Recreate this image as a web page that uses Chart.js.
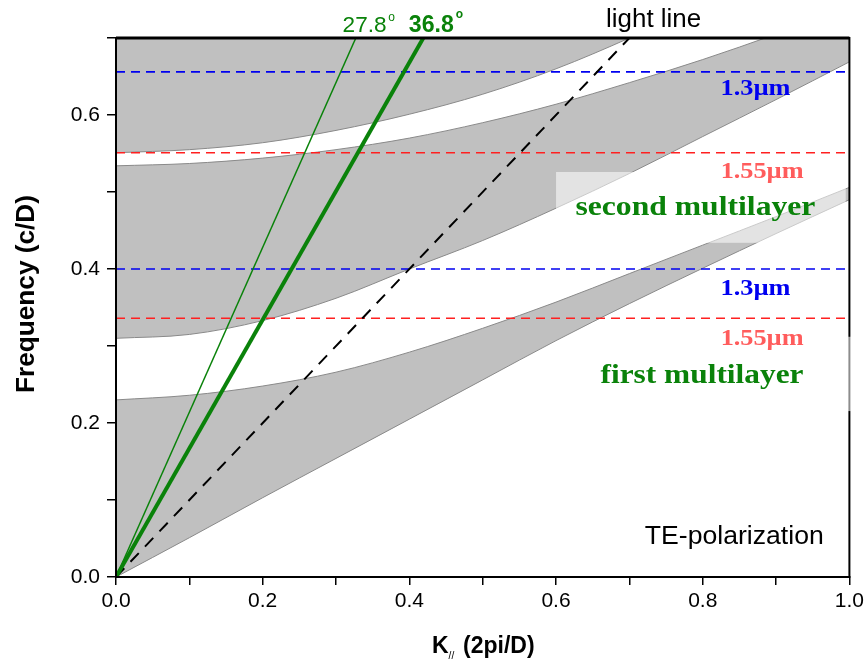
<!DOCTYPE html>
<html>
<head>
<meta charset="utf-8">
<script src="https://cdn.jsdelivr.net/npm/chart.js@4.4.1/dist/chart.umd.min.js"></script>
<style>
  html, body { margin: 0; padding: 0; background: #fff; }
  #wrap { position: relative; width: 868px; height: 663px; }
</style>
</head>
<body>
<div id="wrap"><canvas id="chart" width="868" height="663"></canvas></div>
<script>
// K// sampling shared by all band edges
const kPar = [0, 0.1, 0.2, 0.3, 0.4, 0.5, 0.6, 0.7, 0.8, 0.9, 1.0];
// band edges (frequency c/D)
const band1Lower = [0, 0.051, 0.103, 0.154, 0.205, 0.256, 0.307, 0.355, 0.401, 0.446, 0.49];
const band1Upper = [0.230, 0.236, 0.248, 0.266, 0.292, 0.323, 0.357, 0.394, 0.431, 0.468, 0.506];
const band2Lower = [0.310, 0.315, 0.333, 0.362, 0.400, 0.437, 0.479, 0.524, 0.572, 0.620, 0.669];
const band2Upper = [0.534, 0.537, 0.544, 0.555, 0.570, 0.590, 0.614, 0.642, 0.672, 0.705, 0.740];
const band3Lower = [0.551, 0.555, 0.564, 0.580, 0.601, 0.627, 0.660, 0.700, 0.745, 0.790, 0.840];

// straight lines through the origin
const lightLine = [[0, 0], [0.7, 0.7]];
const angle278 = [[0, 0], [0.327, 0.7]];
const angle368 = [[0, 0], [0.419, 0.7]];

// wavelength levels: [second multilayer, first multilayer]
const freq13um = [0.656, 0.4];
const freq155um = [0.551, 0.336];

const xTickLabels = [0, 0.2, 0.4, 0.6, 0.8, 1.0];
const yTickLabels = [0, 0.2, 0.4, 0.6];

const SANS = '"Liberation Sans", Arial, sans-serif';
const SERIF = '"Liberation Serif", "Times New Roman", serif';
const GREEN = '#0a820a';
const BLUE = '#0000f0';
const PINK = '#ff5c5c';

const toPts = (ys) => kPar.map((k, i) => ({ x: k, y: ys[i] }));
const pairPts = (arr) => arr.map(([x, y]) => ({ x, y }));
const hLine = (f) => [{ x: 0, y: f }, { x: 1, y: f }];

const edge = (label, ys, fill) => ({
  label,
  data: toPts(ys),
  borderColor: '#8a8a8a',
  borderWidth: 1,
  backgroundColor: '#c0c0c0',
  pointRadius: 0,
  cubicInterpolationMode: 'monotone',
  fill,
  order: 10,
});

const dashed = (f, color) => ({
  data: hLine(f),
  borderColor: color,
  borderWidth: 1.6,
  borderDash: [9, 6],
  pointRadius: 0,
  fill: false,
  order: 3,
});

const datasets = [
  edge('band1 lower', band1Lower, false),
  edge('band1 upper', band1Upper, '-1'),
  edge('band2 lower', band2Lower, false),
  edge('band2 upper', band2Upper, '-1'),
  edge('band3 lower', band3Lower, 'end'),
  dashed(freq13um[0], BLUE),
  dashed(freq13um[1], BLUE),
  dashed(freq155um[0], '#ff2020'),
  dashed(freq155um[1], '#ff2020'),
  { data: pairPts(lightLine), borderColor: '#000', borderWidth: 2, borderDash: [12, 9], pointRadius: 0, fill: false, order: 2 },
  { data: pairPts(angle278), borderColor: GREEN, borderWidth: 1.5, pointRadius: 0, fill: false, order: 1 },
  { data: pairPts(angle368), borderColor: GREEN, borderWidth: 4, pointRadius: 0, fill: false, order: 1 },
];

function label(ctx, s, x, y, font, color, width) {
  ctx.font = font;
  ctx.fillStyle = color;
  ctx.textAlign = 'center';
  ctx.textBaseline = 'alphabetic';
  const w = ctx.measureText(s).width;
  ctx.save();
  ctx.translate(x, y);
  if (width) ctx.scale(width / w, 1);
  ctx.fillText(s, 0, 0);
  ctx.restore();
}

const decor = {
  id: 'decor',
  afterDatasetsDraw(chart) {
    const { ctx, chartArea: a, scales: { x, y } } = chart;
    ctx.save();
    // frame
    ctx.strokeStyle = '#000';
    ctx.lineWidth = 2;
    ctx.strokeRect(a.left, a.top, a.right - a.left, a.bottom - a.top);
    ctx.lineWidth = 3;
    ctx.beginPath();
    ctx.moveTo(a.left, a.top);
    ctx.lineTo(a.right, a.top);
    ctx.stroke();

    // half-transparent label boxes
    ctx.fillStyle = 'rgba(255,255,255,0.55)';
    ctx.fillRect(x.getPixelForValue(0.6), y.getPixelForValue(0.526),
      x.getPixelForValue(0.995) - x.getPixelForValue(0.6), y.getPixelForValue(0.434) - y.getPixelForValue(0.526));
    ctx.fillRect(x.getPixelForValue(0.95), y.getPixelForValue(0.312),
      a.right + 3 - x.getPixelForValue(0.95), y.getPixelForValue(0.2155) - y.getPixelForValue(0.312));

    // in-plot labels
    const px = (v) => x.getPixelForValue(v);
    const py = (v) => y.getPixelForValue(v);
    label(ctx, '1.3\u00b5m', px(0.872), py(0.626), 'bold 23px ' + SERIF, BLUE, 70);
    label(ctx, '1.55\u00b5m', px(0.881), py(0.518), 'bold 23px ' + SERIF, PINK, 83);
    label(ctx, 'second multilayer', px(0.79), py(0.470), 'bold 28px ' + SERIF, GREEN, 240);
    label(ctx, '1.3\u00b5m', px(0.872), py(0.366), 'bold 23px ' + SERIF, BLUE, 70);
    label(ctx, '1.55\u00b5m', px(0.881), py(0.301), 'bold 23px ' + SERIF, PINK, 83);
    label(ctx, 'first multilayer', px(0.799), py(0.252), 'bold 28px ' + SERIF, GREEN, 203);
    label(ctx, 'TE-polarization', px(0.843), py(0.043), '26px ' + SANS, '#000', 179);

    // labels above the frame
    label(ctx, '27.8', px(0.339), a.top - 6, '22px ' + SANS, GREEN, 44);
    label(ctx, 'o', px(0.339) + 27, a.top - 17, '12px ' + SANS, GREEN);
    label(ctx, '36.8', px(0.43), a.top - 6, 'bold 24px ' + SANS, GREEN, 45);
    label(ctx, 'o', px(0.43) + 28, a.top - 20, 'bold 12px ' + SANS, GREEN);
    label(ctx, 'light line', px(0.733), a.top - 11, '25px ' + SANS, '#000', 95);

    // axis titles
    ctx.save();
    ctx.translate(25, 294);
    ctx.rotate(-Math.PI / 2);
    label(ctx, 'Frequency (c/D)', 0, 9, 'bold 25px ' + SANS, '#000', 198);
    ctx.restore();

    ctx.font = 'bold 23px ' + SANS;
    ctx.fillStyle = '#000';
    ctx.textAlign = 'left';
    const kx = 432, ky = 653;
    ctx.fillText('K', kx, ky);
    const kw = ctx.measureText('K').width;
    ctx.font = '10px ' + SANS;
    ctx.fillText('//', kx + kw, ky + 6);
    ctx.font = 'bold 23px ' + SANS;
    ctx.fillText(' (2pi/D)', kx + kw + 8, ky);
    ctx.restore();
  },
};

new Chart(document.getElementById('chart'), {
  type: 'line',
  data: { datasets },
  options: {
    responsive: false,
    devicePixelRatio: 1,
    animation: false,
    layout: { padding: { top: 38, right: 17, left: 0, bottom: 0 } },
    plugins: { legend: { display: false }, tooltip: { enabled: false } },
    scales: {
      x: {
        type: 'linear',
        min: 0,
        max: 1,
        afterFit: (s) => { s.height = 86; },
        grid: { drawOnChartArea: false, drawTicks: true, tickLength: 8, color: '#000', lineWidth: 1.5 },
        border: { display: true, color: '#000', width: 2 },
        ticks: {
          stepSize: 0.1,
          padding: 4,
          color: '#000',
          font: { size: 21, family: SANS },
          callback: (v) => (xTickLabels.some((t) => Math.abs(t - v) < 1e-6) ? v.toFixed(1) : ''),
        },
      },
      y: {
        type: 'linear',
        min: 0,
        max: 0.7,
        afterFit: (s) => { s.width = 116; },
        grid: { drawOnChartArea: false, drawTicks: true, tickLength: 9, color: '#000', lineWidth: 1.5 },
        border: { display: true, color: '#000', width: 2 },
        ticks: {
          stepSize: 0.1,
          padding: 7,
          color: '#000',
          font: { size: 21, family: SANS },
          callback: (v) => (yTickLabels.some((t) => Math.abs(t - v) < 1e-6) ? v.toFixed(1) : ''),
        },
      },
    },
  },
  plugins: [decor],
});
</script>
</body>
</html>
